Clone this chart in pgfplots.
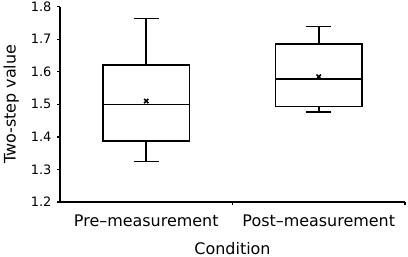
\documentclass[border=0pt]{standalone}
\usepackage{pgfplots}
\pgfplotsset{compat=1.18}
\usepgfplotslibrary{statistics}
\usepackage{fontspec}
\setmainfont{DejaVu Sans}
\begin{document}
\begin{tikzpicture}
\begin{axis}[
  at={(0,0)}, anchor=south west,
  scale only axis,
  width=345bp, height=195.3bp,
  xmin=0, xmax=2, ymin=1.2, ymax=1.8,
  axis x line*=bottom, axis y line*=left,
  axis line style={line width=1.6pt},
  tick align=outside,
  major tick length=3bp,
  every tick/.style={black, line width=1.2pt},
  ytick={1.2,1.3,...,1.8},
  yticklabel style={/pgf/number format/fixed, /pgf/number format/precision=1, /pgf/number format/fixed zerofill, font=\fontsize{13}{15}\selectfont, xshift=-2bp},
  /pgf/number format/assume math mode=true,
  xtick={1,2}, xticklabels={,},
  extra x ticks={0.5,1.5},
  extra x tick labels={Pre\textendash measurement,Post\textendash measurement},
  extra x tick style={major tick length=0pt, tick label style={font=\fontsize{16}{19}\selectfont, yshift=-9bp}},
  xlabel={Condition},
  ylabel={Two-step value},
  xlabel style={font=\fontsize{16}{19}\selectfont, yshift=-6bp},
  ylabel style={font=\fontsize{16}{19}\selectfont, yshift=5bp},
  boxplot/draw direction=y,
  boxplot/box extend=0.5,
  boxplot/whisker extend=0.145,
  boxplot/every box/.style={draw=black, line width=1.6pt},
  boxplot/every whisker/.style={black, line width=1.6pt},
  boxplot/every median/.style={black, line width=1.6pt},
  boxplot/every average/.style={/tikz/mark=x, /tikz/mark size=3bp, /tikz/mark options={black, line width=1.5pt}},
]
\addplot[black, line width=1.6pt, solid, boxplot prepared={
  draw direction=y,
  draw position=0.5,
  lower whisker=1.325, lower quartile=1.387, median=1.499,
  upper quartile=1.620, upper whisker=1.764, average=1.510}]
  coordinates {};
\addplot[black, line width=1.6pt, solid, boxplot prepared={
  draw direction=y,
  draw position=1.5,
  lower whisker=1.477, lower quartile=1.494, median=1.578,
  upper quartile=1.686, upper whisker=1.739, average=1.585}]
  coordinates {};
\end{axis}
\pgfresetboundingbox
\useasboundingbox (-60bp,-55bp) rectangle (348bp,202bp);
\end{tikzpicture}
\end{document}
